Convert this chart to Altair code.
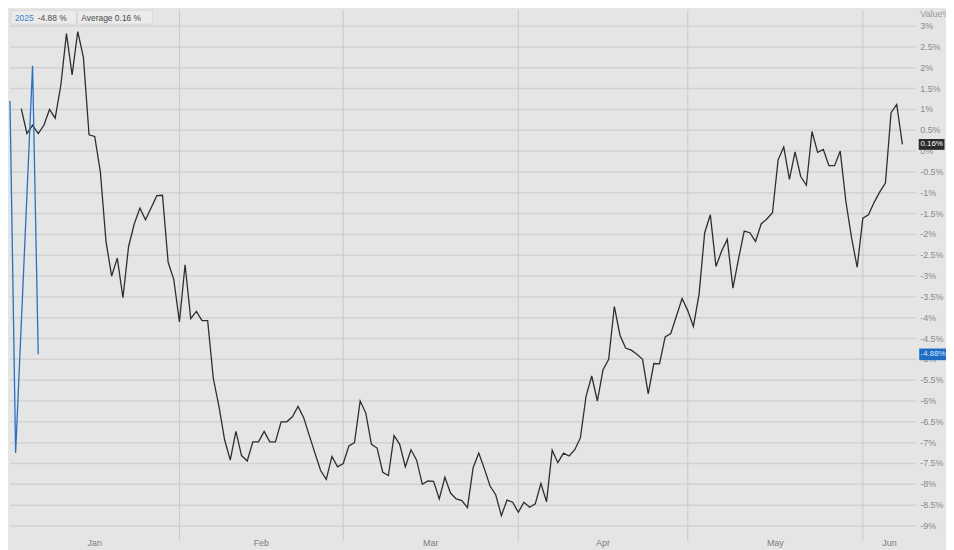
import altair as alt
import pandas as pd

# ---------------- data ----------------
avg_start = "2024-01-04"
avg_values = [
    1.02, 0.42, 0.62, 0.42, 0.62, 1.00, 0.79, 1.58, 2.82, 1.83, 2.87, 2.25, 0.39, 0.35,
    -0.50, -2.17, -3.00, -2.57, -3.52, -2.29, -1.75, -1.37, -1.65, -1.36, -1.07, -1.06,
    -2.67, -3.08,
    -4.10, -2.73, -4.02, -3.85, -4.07, -4.07, -5.46, -6.13, -6.93, -7.42, -6.73, -7.31,
    -7.44, -6.98, -6.98, -6.73, -6.98, -6.98, -6.50, -6.50, -6.38, -6.13, -6.40, -6.83,
    -7.25, -7.67, -7.88, -7.33, -7.58,
    -7.50, -7.08, -7.00, -6.00, -6.29, -7.04, -7.13, -7.71, -7.79, -6.83, -7.04, -7.58,
    -7.17, -7.42, -8.00, -7.92, -7.93, -8.35, -7.83, -8.21, -8.35, -8.39, -8.56, -7.60,
    -7.25, -7.63, -8.04, -8.25, -8.75, -8.38, -8.43,
    -8.67, -8.43, -8.55, -8.47, -7.98, -8.42, -7.18, -7.48, -7.25, -7.32, -7.17, -6.88,
    -5.88, -5.40, -6.00, -5.25, -5.00, -3.73, -4.42, -4.73, -4.78, -4.88, -5.00, -5.83,
    -5.10, -5.11, -4.46, -4.38, -3.96, -3.54,
    -3.83, -4.21, -3.44, -1.96, -1.53, -2.77, -2.40, -2.12, -3.29, -2.58, -1.92, -1.96,
    -2.17, -1.75, -1.63, -1.48, -0.21, 0.10, -0.68, -0.02, -0.61, -0.82, 0.47, -0.03,
    0.04, -0.35, -0.35, 0.00, -1.21, -2.08, -2.79,
    -1.61, -1.53, -1.23, -0.98, -0.77, 0.92, 1.12, 0.16,
]
y2025_dates = ["2024-01-02", "2024-01-03", "2024-01-06", "2024-01-07"]
y2025_values = [1.20, -7.25, 2.05, -4.88]

month_starts = ["2024-02-01", "2024-03-01", "2024-04-01", "2024-05-01", "2024-06-01"]
month_names = ["Jan", "Feb", "Mar", "Apr", "May", "Jun"]
y_ticks = [3, 2.5, 2, 1.5, 1, 0.5, 0, -0.5, -1, -1.5, -2, -2.5, -3, -3.5, -4, -4.5,
           -5, -5.5, -6, -6.5, -7, -7.5, -8, -8.5, -9]

legend_series = ["2025"]
legend_last = ["-4.88 %"]
legend_avg = ["Average 0.16 %"]
end_avg_label = ["0.16%"]
end_avg_value = [0.16]
end_2025_label = ["-4.88%"]
end_2025_value = [-4.88]

# ---------------- tables ----------------
avg_df = pd.DataFrame({
    "date": pd.date_range(avg_start, periods=len(avg_values), freq="D"),
    "value": avg_values,
})
y25_df = pd.DataFrame({"date": pd.to_datetime(y2025_dates), "value": y2025_values})
sep_df = pd.DataFrame({"date": pd.to_datetime(month_starts)})

dom_start = pd.Timestamp("2024-01-02 00:00")
dom_end = pd.Timestamp("2024-06-10 11:00")
bounds = [dom_start] + list(pd.to_datetime(month_starts)) + [dom_end]
mids = [a + (b - a) / 2 for a, b in zip(bounds[:-1], bounds[1:])]
label_df = pd.DataFrame({"date": mids, "name": month_names})
ytick_df = pd.DataFrame({"value": y_ticks,
                         "label": [("%g" % v) + "%" for v in y_ticks]})

W, H = 914, 531
FONT = "Liberation Sans"

x_scale = alt.Scale(domain=[dom_start.isoformat(), dom_end.isoformat()])
y_scale = alt.Scale(domain=[-9.26, 3.38], nice=False, zero=False)

# horizontal grid lines (one per tick value)
grid = alt.Chart(ytick_df).mark_rule(color="#d2d2d2", strokeWidth=1.5).encode(
    y=alt.Y("value:Q", scale=y_scale, axis=None),
    x=alt.value(0), x2=alt.value(W),
)
# right-hand tick labels
ylabels = alt.Chart(ytick_df).mark_text(color="#8a8a8a", fontSize=9, font=FONT,
                                        align="left", baseline="middle").encode(
    y=alt.Y("value:Q", scale=y_scale, axis=None),
    x=alt.value(W + 4), text="label:N",
)
ytitle = alt.Chart(pd.DataFrame({"t": ["Value%"]})).mark_text(
    color="#9a9a9a", fontSize=9, font=FONT, align="left", baseline="middle").encode(
    x=alt.value(W + 4), y=alt.value(4), text="t:N")

# month separators
seps = alt.Chart(sep_df).mark_rule(color="#c8c8c8", strokeWidth=1).encode(
    x=alt.X("date:T", scale=x_scale, axis=None),
    y=alt.value(0), y2=alt.value(H + 4),
)
# month labels, centred in each month
xlabels = alt.Chart(label_df).mark_text(color="#7c7c7c", fontSize=9, font=FONT,
                                        align="center", baseline="middle").encode(
    x=alt.X("date:T", scale=x_scale, axis=None),
    y=alt.value(H + 6), text="name:N",
)

avg_line = alt.Chart(avg_df).mark_line(color="#2e2e2e", strokeWidth=1.3).encode(
    x=alt.X("date:T", scale=x_scale, axis=None),
    y=alt.Y("value:Q", scale=y_scale, axis=None),
)
y25_line = alt.Chart(y25_df).mark_line(color="#2a70c0", strokeWidth=1.3).encode(
    x=alt.X("date:T", scale=x_scale, axis=None),
    y=alt.Y("value:Q", scale=y_scale, axis=None),
)

leg_df = pd.DataFrame({"series": legend_series, "last": legend_last, "avg": legend_avg})
leg_box1 = alt.Chart(leg_df).mark_rect(fill="#ebebeb", stroke="#d8d8d8", strokeWidth=1).encode(
    x=alt.value(1), x2=alt.value(67), y=alt.value(0), y2=alt.value(14))
leg_box2 = alt.Chart(leg_df).mark_rect(fill="#ebebeb", stroke="#d8d8d8", strokeWidth=1).encode(
    x=alt.value(68), x2=alt.value(144), y=alt.value(0), y2=alt.value(14))
leg_t1 = alt.Chart(leg_df).mark_text(color="#3b82c6", fontSize=8.5, font=FONT,
                                     align="left", baseline="middle").encode(
    x=alt.value(5), y=alt.value(7.5), text="series:N")
leg_t2 = alt.Chart(leg_df).mark_text(color="#4a4a4a", fontSize=8.5, font=FONT,
                                     align="left", baseline="middle").encode(
    x=alt.value(28), y=alt.value(7.5), text="last:N")
leg_t3 = alt.Chart(leg_df).mark_text(color="#4a4a4a", fontSize=8.5, font=FONT,
                                     align="left", baseline="middle").encode(
    x=alt.value(72), y=alt.value(7.5), text="avg:N")

avg_end_df = pd.DataFrame({"label": end_avg_label, "value": end_avg_value})
y25_end_df = pd.DataFrame({"label": end_2025_label, "value": end_2025_value})

box_shape = "M-1,-0.42H1V0.42H-1Z"
avg_box = alt.Chart(avg_end_df).mark_point(shape=box_shape, size=26 * 26, filled=True,
                                           color="#2b2b2b", opacity=1, strokeWidth=0).encode(
    x=alt.value(W + 15.5), y=alt.Y("value:Q", scale=y_scale, axis=None))
avg_txt = alt.Chart(avg_end_df).mark_text(color="#ffffff", fontSize=8, font=FONT,
                                          align="center", baseline="middle").encode(
    x=alt.value(W + 15.5), y=alt.Y("value:Q", scale=y_scale, axis=None), text="label:N")
y25_box = alt.Chart(y25_end_df).mark_point(shape=box_shape, size=28 * 28, filled=True,
                                           color="#1f6cc4", opacity=1, strokeWidth=0).encode(
    x=alt.value(W + 17), y=alt.Y("value:Q", scale=y_scale, axis=None))
y25_txt = alt.Chart(y25_end_df).mark_text(color="#d8e6f6", fontSize=8, font=FONT,
                                          align="center", baseline="middle").encode(
    x=alt.value(W + 17), y=alt.Y("value:Q", scale=y_scale, axis=None), text="label:N")

chart = alt.layer(
    grid, seps, ylabels, ytitle, xlabels, avg_line, y25_line,
    leg_box1, leg_box2, leg_t1, leg_t2, leg_t3,
    avg_box, avg_txt, y25_box, y25_txt,
).properties(
    width=W, height=H,
    autosize=alt.AutoSizeParams(type="none"),
    padding={"left": 2, "top": 0, "right": 30, "bottom": 11},
    background="#e5e5e5",
).configure_view(stroke=None)

chart.save("out.html", embed_options={"renderer": "svg", "actions": False})
